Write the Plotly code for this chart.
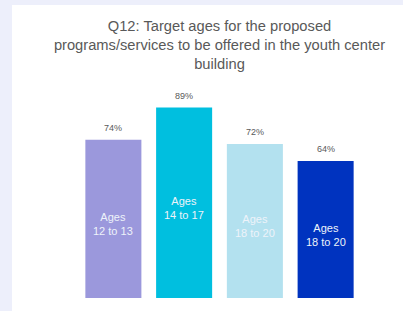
import plotly.graph_objects as go

# Data
categories = ["Ages<br>12 to 13", "Ages<br>14 to 17", "Ages<br>18 to 20", "Ages<br>18 to 20"]
values = [74, 89, 72, 64]
value_labels = ["74%", "89%", "72%", "64%"]
colors = ["#9B98DC", "#00BFDF", "#B3E1EF", "#0033BF"]

W, H = 403, 311
L, R, T, B = 78, 42, 84, 13
pw, ph = W - L - R, H - T - B
FONT = "Liberation Sans, Arial, sans-serif"

positions = list(range(len(categories)))

fig = go.Figure()
fig.add_trace(go.Bar(
    x=positions, y=values,
    marker=dict(color=colors, line=dict(width=0)),
    hoverinfo="skip",
))

for xi, v, lab, cat in zip(positions, values, value_labels, categories):
    fig.add_annotation(x=xi, y=v, text=lab, showarrow=False, xref="x", yref="y",
                       yanchor="bottom", yshift=5,
                       font=dict(family=FONT, size=9, color="#595959"))
    fig.add_annotation(x=xi, y=v / 2, text=cat, showarrow=False, xref="x", yref="y",
                       yanchor="middle", yshift=-5,
                       font=dict(family=FONT, size=11, color="#EEF3FA"))

# white panel
def px_to_paper_x(p):
    return (p - L) / pw

def px_to_paper_y(p):
    return (H - B - p) / ph

fig.add_shape(type="rect", xref="paper", yref="paper",
              x0=px_to_paper_x(12), x1=px_to_paper_x(W + 5),
              y0=px_to_paper_y(H + 5), y1=px_to_paper_y(5),
              fillcolor="white", line=dict(width=0), layer="below")

fig.update_layout(
    width=W, height=H,
    margin=dict(l=L, r=R, t=T, b=B),
    paper_bgcolor="#EDEFFB",
    plot_bgcolor="rgba(0,0,0,0)",
    bargap=0.208,
    showlegend=False,
    title=dict(
        text="Q12: Target ages for the proposed<br>programs/services to be offered in the youth center<br>building",
        x=0.5, xref="paper", xanchor="center",
        y=1 - 31 / H, yref="container", yanchor="top",
        font=dict(family=FONT, size=14.7, color="#595959"),
    ),
    xaxis=dict(visible=False, range=[-0.5, 3.5]),
    yaxis=dict(visible=False, range=[0, 100]),
)

fig.write_html(
    "out.html",
    config={"displayModeBar": False},
    post_script="document.body.style.margin='0';document.body.style.background='#EDEFFB';document.body.style.overflow='hidden';",
)
